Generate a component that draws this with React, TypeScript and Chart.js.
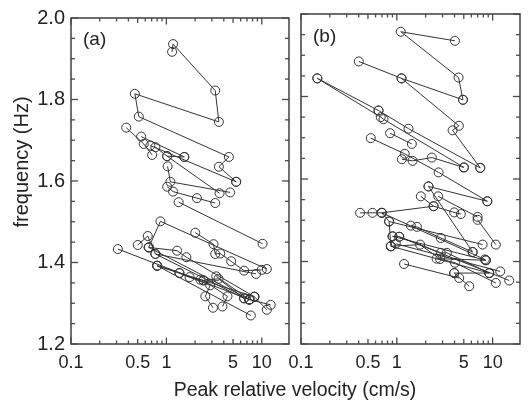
import React, { useEffect, useRef } from "react";
import { Chart, registerables } from "chart.js";

Chart.register(...registerables);

// Panel (a): peak relative velocity (cm/s) and frequency (Hz); null breaks a trace
const velocityA: (number | null)[] = [
  1.147, 1.175, 3.25, 3.55, 0.467, 0.514, 4.52, 3.55, 5.39, null,
  0.379, 0.579, 0.709, null,
  0.544, 1.54, null,
  0.68, 5.39, null,
  0.767, 1.017, 1.54, null,
  1.017, 3.61, null,
  1.03, 1.1, 4.66, null,
  1.02, 1.175, 2.09, 3.25, null,
  1.345, 10.2, null,
  0.653, 0.866, 11.3, null,
  2.01, 3.12, 3.25, 3.67, 4.78, 6.53, 10.0, null,
  0.31, 7.42, null,
  0.501, 0.638, 0.767, 6.53, null,
  0.653, 1.294, 1.62, 8.37, null,
  0.767, 8.72, null,
  0.8, 7.68, null,
  0.8, 1.37, 2.88, 2.56, 3.08, null,
  1.37, 1.75, 2.27, 2.45, 3.52, 6.53, null,
  2.45, 4.37, 3.87, null,
  3.33, 7.42, null,
  7.42, 12.4, null,
  8.37, 11.3, null,
  0.653, 7.42, null,
  0.8, 8.37,
];
const frequencyA: (number | null)[] = [
  1.917, 1.936, 1.822, 1.745, 1.814, 1.758, 1.659, 1.635, 1.598, null,
  1.731, 1.691, 1.664, null,
  1.709, 1.659, null,
  1.687, 1.598, null,
  1.683, 1.661, 1.659, null,
  1.661, 1.57, null,
  1.636, 1.598, 1.572, null,
  1.586, 1.574, 1.558, 1.546, null,
  1.548, 1.446, null,
  1.437, 1.501, 1.384, null,
  1.473, 1.445, 1.421, 1.422, 1.403, 1.38, 1.382, null,
  1.433, 1.309, null,
  1.443, 1.465, 1.421, 1.312, null,
  1.437, 1.429, 1.413, 1.316, null,
  1.421, 1.372, null,
  1.392, 1.27, null,
  1.392, 1.374, 1.344, 1.317, 1.289, null,
  1.374, 1.364, 1.358, 1.356, 1.36, 1.312, null,
  1.356, 1.317, 1.292, null,
  1.366, 1.309, null,
  1.309, 1.296, null,
  1.316, 1.284, null,
  1.437, 1.309, null,
  1.392, 1.316,
];

// Panel (b)
const velocityB: (number | null)[] = [
  4.04, 1.1, 4.41, 4.9, null,
  0.401, 1.12, 4.9, null,
  1.12, 4.44, 3.82, 7.42, null,
  0.148, 0.644, null,
  0.148, 0.68, 0.726, 5.01, null,
  0.644, 1.325, 7.42, null,
  0.851, 1.435, null,
  0.535, 1.21, 2.73, 8.8, null,
  1.13, 1.46, 2.32, 5.01, null,
  2.14, 8.8, null,
  2.7, 6.97, null,
  1.78, 2.42, 3.97, 4.66, null,
  0.414, 0.557, 0.697, 2.42, null,
  2.14, 6.18, null,
  0.697, 0.831, 0.866, null,
  0.697, 8.3, null,
  0.831, 7.86, null,
  1.4, 1.62, 2.88, 6.18, null,
  0.902, 1.06, 2.88, 3.33, 9.21, null,
  0.866, 1.75, 2.83, 4.04, 10.8, null,
  0.976, 12.0, null,
  1.06, 14.9, null,
  1.19, 4.48, null,
  3.97, 5.69, null,
  6.97, 10.8, null,
  2.6, 8.51, null,
  3.97, 9.21, null,
  0.866, 9.21, null,
  0.902, 8.51,
];
const frequencyB: (number | null)[] = [
  1.935, 1.957, 1.846, 1.792, null,
  1.885, 1.844, 1.792, null,
  1.844, 1.729, 1.718, 1.627, null,
  1.844, 1.766, null,
  1.844, 1.75, 1.745, 1.628, null,
  1.766, 1.722, 1.627, null,
  1.711, 1.685, null,
  1.699, 1.661, 1.616, 1.546, null,
  1.648, 1.644, 1.652, 1.628, null,
  1.582, 1.546, null,
  1.558, 1.508, null,
  1.558, 1.534, 1.519, 1.515, null,
  1.518, 1.518, 1.518, 1.534, null,
  1.582, 1.423, null,
  1.518, 1.497, 1.437, null,
  1.518, 1.405, null,
  1.497, 1.441, null,
  1.487, 1.484, 1.457, 1.423, null,
  1.461, 1.46, 1.421, 1.421, 1.372, null,
  1.437, 1.441, 1.406, 1.397, 1.348, null,
  1.443, 1.376, null,
  1.46, 1.354, null,
  1.394, 1.36, null,
  1.372, 1.34, null,
  1.501, 1.441, null,
  1.407, 1.403, null,
  1.372, 1.372, null,
  1.437, 1.372, null,
  1.461, 1.403,
];

const xTickLabels = [0.1, 0.5, 1, 5, 10];
const xRange = [0.1, 19.3];
const yRange = [1.2, 2.0];
const panelLabels = ["(a)", "(b)"];
const xTitle = "Peak relative velocity (cm/s)";
const yTitle = "frequency (Hz)";

const FONT = "'Liberation Sans', Arial, Helvetica, sans-serif";
const INK = "#222";
const FRAME = "#4a4a4a";
const TRACE = "#333";

type PanelSpec = {
  velocity: (number | null)[];
  frequency: (number | null)[];
  label: string;
  showYLabels: boolean;
  yWidth: number;
  padRight: number;
  labelPos: [number, number];
  drawTitles: boolean;
};

function line(ctx: CanvasRenderingContext2D, x1: number, y1: number, x2: number, y2: number) {
  ctx.beginPath();
  ctx.moveTo(x1, y1);
  ctx.lineTo(x2, y2);
  ctx.stroke();
}

function buildChart(canvas: HTMLCanvasElement, spec: PanelSpec) {
  const points = spec.velocity.map((v, i) => ({ x: v, y: spec.frequency[i] }));

  const framePlugin = {
    id: "frameAndLabels",
    afterDraw(chart: any) {
      const ctx: CanvasRenderingContext2D = chart.ctx;
      const { left, right, top, bottom } = chart.chartArea;
      const xs = chart.scales.x;
      const ys = chart.scales.y;
      ctx.save();
      ctx.strokeStyle = FRAME;
      ctx.lineWidth = 1.3;
      // inward ticks on the frequency axis: major every 0.2, minor every 0.05
      for (let k = 0; k <= 16; k++) {
        const py = ys.getPixelForValue(yRange[0] + k * 0.05);
        const len = k % 4 === 0 ? 7 : 4;
        line(ctx, left, py, left + len, py);
        line(ctx, right, py, right - len, py);
      }
      // inward log ticks on the velocity axis
      for (const dec of [0.1, 1, 10]) {
        for (let m = 1; m <= 9; m++) {
          const v = dec * m;
          if (v < xs.min - 1e-9 || v > xs.max) continue;
          const px = xs.getPixelForValue(v);
          const len = m === 1 ? 6.5 : m === 5 ? 5 : 3.5;
          line(ctx, px, bottom, px, bottom - len);
          line(ctx, px, top, px, top + len);
        }
      }
      ctx.lineWidth = 1.6;
      ctx.strokeRect(left, top, right - left, bottom - top);

      ctx.fillStyle = INK;
      ctx.font = `19px ${FONT}`;
      ctx.textAlign = "left";
      ctx.textBaseline = "middle";
      ctx.fillText(spec.label, spec.labelPos[0], spec.labelPos[1]);

      if (spec.drawTitles) {
        ctx.font = `19.5px ${FONT}`;
        ctx.textAlign = "center";
        ctx.textBaseline = "alphabetic";
        ctx.fillText(xTitle, 295, 396);
        ctx.save();
        ctx.translate(28, 162);
        ctx.rotate(-Math.PI / 2);
        ctx.textBaseline = "alphabetic";
        ctx.font = `20px ${FONT}`;
        ctx.fillText(yTitle, 0, 0);
        ctx.restore();
      }
      ctx.restore();
    },
  };

  return new Chart(canvas, {
    type: "scatter",
    data: {
      datasets: [
        {
          data: points as any,
          showLine: true,
          spanGaps: false,
          borderColor: TRACE,
          borderWidth: 1,
          pointRadius: 4.5,
          pointBorderWidth: 1,
          pointBorderColor: TRACE,
          pointBackgroundColor: "rgba(0,0,0,0)",
        },
      ],
    },
    options: {
      animation: false,
      responsive: false,
      events: [],
      layout: { padding: { top: 14, right: spec.padRight, left: 0, bottom: 0 } },
      plugins: { legend: { display: false }, tooltip: { enabled: false } },
      scales: {
        x: {
          type: "logarithmic",
          min: xRange[0],
          max: xRange[1],
          grid: { display: false, drawTicks: false },
          border: { display: false },
          afterFit: (s: any) => {
            s.height = 62;
          },
          ticks: {
            autoSkip: false,
            maxRotation: 0,
            minRotation: 0,
            padding: 8,
            color: INK,
            font: { family: FONT, size: 18 },
            callback: (value: any) => {
              const v = Number(value);
              const hit = xTickLabels.find((t) => Math.abs(t - v) / t < 1e-6);
              return hit === undefined ? "" : String(hit);
            },
          },
        },
        y: {
          type: "linear",
          min: yRange[0],
          max: yRange[1],
          grid: { display: false, drawTicks: false },
          border: { display: false },
          afterFit: (s: any) => {
            s.width = spec.yWidth;
          },
          ticks: {
            display: spec.showYLabels,
            stepSize: 0.2,
            padding: 6,
            color: INK,
            font: { family: FONT, size: 20 },
            callback: (value: any) => Number(value).toFixed(1),
          },
        },
      },
    },
    plugins: [framePlugin],
  } as any);
}

export default function App() {
  const leftRef = useRef<HTMLCanvasElement>(null);
  const rightRef = useRef<HTMLCanvasElement>(null);

  useEffect(() => {
    const charts: Chart[] = [];
    if (leftRef.current) {
      charts.push(
        buildChart(leftRef.current, {
          velocity: velocityA,
          frequency: frequencyA,
          label: panelLabels[0],
          showYLabels: true,
          yWidth: 71,
          padRight: 529 - 289,
          labelPos: [83, 40],
          drawTitles: true,
        })
      );
    }
    if (rightRef.current) {
      charts.push(
        buildChart(rightRef.current, {
          velocity: velocityB,
          frequency: frequencyB,
          label: panelLabels[1],
          showYLabels: false,
          yWidth: 31,
          padRight: 259 - 250,
          labelPos: [313 - 270, 37],
          drawTitles: false,
        })
      );
    }
    return () => charts.forEach((c) => c.destroy());
  }, []);

  return (
    <div style={{ position: "absolute", left: 0, top: 0, width: 529, height: 406, background: "#fff" }}>
      <canvas ref={leftRef} width={529} height={406} style={{ position: "absolute", left: 0, top: 0 }} />
      <canvas ref={rightRef} width={259} height={406} style={{ position: "absolute", left: 270, top: 0 }} />
    </div>
  );
}
